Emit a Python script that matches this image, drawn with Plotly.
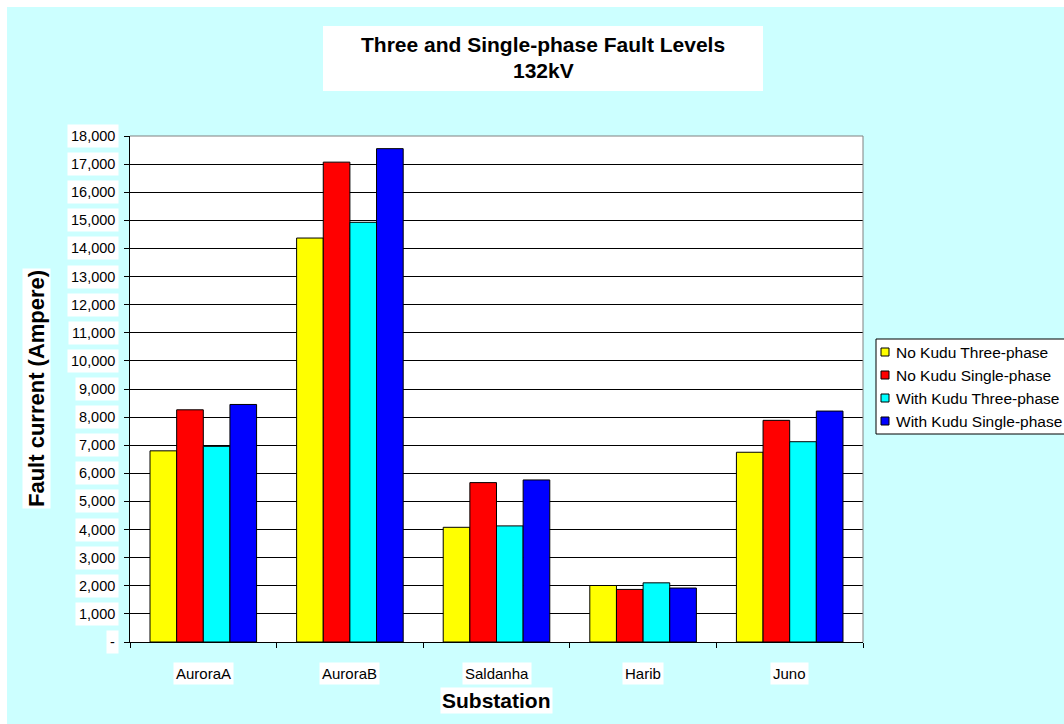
import plotly.graph_objects as go

# Fault current per substation (Ampere)
substations = ["AuroraA", "AuroraB", "Saldanha", "Harib", "Juno"]
no_kudu_three = [6800, 14370, 4080, 2010, 6750]
no_kudu_single = [8260, 17070, 5670, 1870, 7885]
with_kudu_three = [6960, 14930, 4130, 2105, 7125]
with_kudu_single = [8450, 17550, 5765, 1920, 8215]

series_names = ["No Kudu Three-phase", "No Kudu Single-phase",
                "With Kudu Three-phase", "With Kudu Single-phase"]
series_values = [no_kudu_three, no_kudu_single, with_kudu_three, with_kudu_single]
series_colors = ["#FFFF00", "#FF0000", "#00FFFF", "#0000FF"]

title_lines = ["Three and Single-phase Fault Levels", "132kV"]

y_ticks = list(range(0, 18001, 1000))
y_tick_labels = ["-"] + [f"{v:,}" for v in y_ticks[1:]]

FONT = "Liberation Sans, Arial, sans-serif"
W, H = 1064, 724
L, R, T, B = 130, 201, 136, 82
PW, PH = W - L - R, H - T - B


def px_x(px):
    return (px - L) / PW


def px_y(py):
    return (H - B - py) / PH


fig = go.Figure()
for name, vals, col in zip(series_names, series_values, series_colors):
    fig.add_trace(go.Bar(
        x=substations, y=vals, name=name,
        marker=dict(color=col, line=dict(color="black", width=1)),
        showlegend=False,
    ))

annotations = []
shapes = []

# white strips at the top and left edge of the page
shapes.append(dict(type="rect", xref="paper", yref="paper", layer="below",
                   x0=px_x(-5), x1=px_x(7), y0=px_y(730), y1=px_y(-5),
                   fillcolor="white", line=dict(width=0)))
shapes.append(dict(type="rect", xref="paper", yref="paper", layer="below",
                   x0=px_x(-5), x1=px_x(1070), y0=px_y(7), y1=px_y(-5),
                   fillcolor="white", line=dict(width=0)))

# grey plot-area border on top and right
shapes.append(dict(type="line", xref="paper", yref="paper", layer="above",
                   x0=0, x1=1, y0=1, y1=1, line=dict(color="#808080", width=1)))
shapes.append(dict(type="line", xref="paper", yref="paper", layer="above",
                   x0=1, x1=1, y0=0, y1=1, line=dict(color="#808080", width=1)))

# title on a white panel
shapes.append(dict(type="rect", xref="paper", yref="paper", layer="below",
                   x0=px_x(323), x1=px_x(763), y0=px_y(91), y1=px_y(26),
                   fillcolor="white", line=dict(width=0)))
for line, cy in zip(title_lines, [44.5, 70]):
    annotations.append(dict(
        xref="paper", yref="paper", x=px_x(543), y=px_y(cy),
        xanchor="center", yanchor="middle", showarrow=False,
        text=f"<b>{line}</b>",
        font=dict(family=FONT, size=21, color="black"),
    ))

# y tick labels on white boxes
for v, lab in zip(y_ticks, y_tick_labels):
    annotations.append(dict(
        xref="paper", yref="y", x=px_x(119), y=v,
        xanchor="right", yanchor="middle", showarrow=False,
        text=lab, font=dict(family=FONT, size=14.5, color="black"),
        bgcolor="white", borderpad=3,
    ))

# category labels on white boxes
for s in substations:
    annotations.append(dict(
        xref="x", yref="paper", x=s, y=px_y(673.5),
        xanchor="center", yanchor="middle", showarrow=False,
        text=s, font=dict(family=FONT, size=15, color="black"),
        bgcolor="white", borderpad=2,
    ))

# axis titles
annotations.append(dict(
    xref="paper", yref="paper", x=0.5, y=px_y(700),
    xanchor="center", yanchor="middle", showarrow=False,
    text="<b>Substation</b>", font=dict(family=FONT, size=21, color="black"),
    bgcolor="white", borderpad=1,
))
annotations.append(dict(
    xref="paper", yref="paper", x=px_x(36), y=0.5,
    xanchor="center", yanchor="middle", showarrow=False, textangle=-90,
    text="<b>Fault current (Ampere)</b>", font=dict(family=FONT, size=22, color="black"),
    bgcolor="white", borderpad=1,
))

# legend box
shapes.append(dict(type="rect", xref="paper", yref="paper", layer="above",
                   x0=px_x(876), x1=px_x(1100), y0=px_y(434), y1=px_y(339),
                   fillcolor="white", line=dict(color="black", width=1)))
for i, (name, col) in enumerate(zip(series_names, series_colors)):
    cy = 352 + 23 * i
    shapes.append(dict(type="rect", xref="paper", yref="paper", layer="above",
                       x0=px_x(881), x1=px_x(889), y0=px_y(cy + 4), y1=px_y(cy - 4),
                       fillcolor=col, line=dict(color="black", width=1)))
    annotations.append(dict(
        xref="paper", yref="paper", x=px_x(894), y=px_y(cy),
        xanchor="left", yanchor="middle", showarrow=False,
        text=name, font=dict(family=FONT, size=15.5, color="black"),
    ))

fig.update_layout(
    width=W, height=H,
    margin=dict(l=L, r=R, t=T, b=B, autoexpand=False),
    paper_bgcolor="#CCFFFF", plot_bgcolor="white",
    barmode="group", bargap=0.273, bargroupgap=0,
    font=dict(family=FONT, size=14, color="black"),
    annotations=annotations, shapes=shapes,
    showlegend=False,
)
fig.update_xaxes(
    showline=True, linecolor="black", linewidth=1,
    ticks="outside", tickson="boundaries", ticklen=5, tickcolor="black",
    showticklabels=False, showgrid=False,
)
fig.update_yaxes(
    range=[0, 18000], tickvals=y_ticks, showticklabels=False,
    showline=True, linecolor="black", linewidth=1,
    ticks="outside", ticklen=5, tickcolor="black",
    showgrid=True, gridcolor="black", gridwidth=1, zeroline=False,
)

fig.write_html("out.html")
